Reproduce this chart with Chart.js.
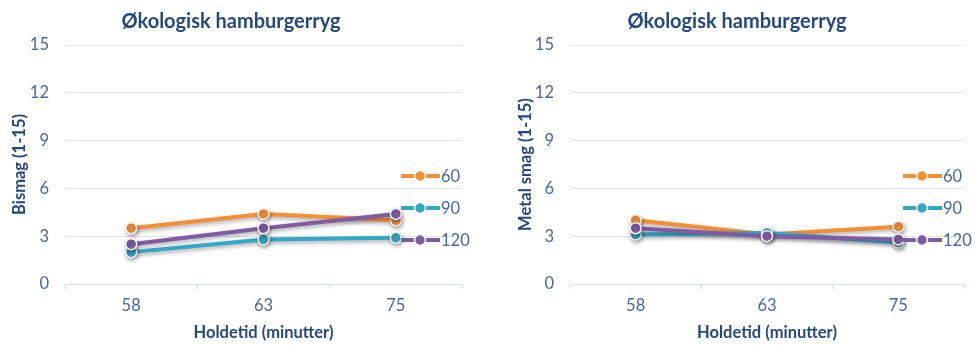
<!DOCTYPE html>
<html>
<head>
<meta charset="utf-8">
<script src="https://cdn.jsdelivr.net/npm/chart.js@4/dist/chart.umd.min.js"></script>
<style>
  html, body { margin: 0; padding: 0; background: #fff; overflow: hidden; width: 978px; height: 345px; }
  .box { position: absolute; top: 0; height: 345px; }
  #b1 { left: 0; width: 492px; }
  #b2 { left: 510px; width: 484px; }
</style>
</head>
<body>
<div class="box" id="b1"><canvas id="c1" width="492" height="345"></canvas></div>
<div class="box" id="b2"><canvas id="c2" width="484" height="345"></canvas></div>
<script>
// ---- data ----
const categories = ["58", "63", "75"];
const seriesNames = ["60", "90", "120"];
const bismag60 = [3.5, 4.4, 4.0];
const bismag90 = [2.0, 2.8, 2.9];
const bismag120 = [2.5, 3.5, 4.4];
const metal60 = [4.0, 3.1, 3.6];
const metal90 = [3.1, 3.2, 2.6];
const metal120 = [3.5, 3.0, 2.8];
const yTicks = [0, 3, 6, 9, 12, 15];
const chartTitle = "Økologisk hamburgerryg";
const xTitle = "Holdetid (minutter)";
const yTitleLeft = "Bismag (1-15)";
const yTitleRight = "Metal smag (1-15)";

const colors = ["#F38F35", "#33A8C6", "#7E5BA3"];
const FONT = "Lato, 'Open Sans', sans-serif";
const TICK_COLOR = "#46689B";
const TITLE_COLOR = "#24497E";

const shadowPlugin = {
  id: 'shadow',
  beforeDatasetsDraw(chart) {
    const ctx = chart.ctx;
    ctx.save();
    ctx.shadowColor = 'rgba(0,0,0,0.35)';
    ctx.shadowBlur = 4;
    ctx.shadowOffsetX = 1;
    ctx.shadowOffsetY = 2;
  },
  afterDatasetsDraw(chart) {
    chart.ctx.restore();
  }
};

const legendPlugin = {
  id: 'customLegend',
  afterDraw(chart) {
    const ctx = chart.ctx;
    const area = chart.chartArea;
    ctx.save();
    chart.data.datasets.forEach((ds, i) => {
      const y = area.top + 131 + i * 32;
      const x0 = area.right - 61;
      const xd = area.right - 42;
      ctx.strokeStyle = ds.borderColor;
      ctx.lineWidth = 4;
      ctx.beginPath();
      ctx.moveTo(x0, y);
      ctx.lineTo(x0 + 39, y);
      ctx.stroke();
      ctx.beginPath();
      ctx.arc(xd, y, 5.5, 0, Math.PI * 2);
      ctx.fillStyle = ds.backgroundColor;
      ctx.fill();
      ctx.lineWidth = 1.5;
      ctx.strokeStyle = '#ffffff';
      ctx.stroke();
      ctx.fillStyle = TICK_COLOR;
      ctx.font = "16.5px " + FONT;
      ctx.textBaseline = 'middle';
      ctx.textAlign = 'left';
      ctx.fillText(ds.label, area.right - 21, y + 1);
    });
    ctx.restore();
  }
};

function makeChart(id, seriesList, yTitle, leftWidth, yTitlePad) {
  return new Chart(document.getElementById(id), {
    type: 'line',
    data: {
      labels: categories,
      datasets: seriesList.map((vals, i) => ({
        label: seriesNames[i],
        data: vals,
        order: seriesList.length - i,
        borderColor: colors[i],
        backgroundColor: colors[i],
        borderWidth: 4,
        pointRadius: 5.5,
        pointHoverRadius: 5.5,
        pointBorderColor: '#f4f4f4',
        pointBorderWidth: 1.5,
        tension: 0
      }))
    },
    options: {
      responsive: false,
      animation: false,
      events: [],
      layout: { padding: { left: 0, right: 30, top: 0, bottom: 0 } },
      plugins: {
        legend: { display: false },
        tooltip: { enabled: false },
        title: {
          display: true,
          text: chartTitle,
          color: TITLE_COLOR,
          font: { family: FONT, size: 20, weight: 'bold' },
          padding: { top: 10, bottom: 11 }
        }
      },
      scales: {
        x: {
          offset: true,
          grid: { display: true, drawOnChartArea: false, drawTicks: true, tickLength: 5, offset: true, color: '#D5DFEC' },
          border: { display: true, color: '#D5DFEC', width: 1 },
          ticks: { color: TICK_COLOR, font: { family: FONT, size: 16.5 }, padding: 7 },
          title: {
            display: true, text: xTitle, color: TITLE_COLOR,
            font: { family: FONT, size: 16.5, weight: 'bold' },
            padding: { top: 0, bottom: 2 }
          },
          afterFit(scale) { scale.height = 61; }
        },
        y: {
          min: 0, max: 15,
          afterBuildTicks(scale) { scale.ticks = yTicks.map(v => ({ value: v })); },
          grid: { color: '#DDE6F2', drawTicks: false },
          border: { display: false },
          ticks: { color: TICK_COLOR, font: { family: FONT, size: 16.5 }, padding: 16 },
          title: {
            display: true, text: yTitle, color: TITLE_COLOR,
            font: { family: FONT, size: 16.5, weight: 'bold' },
            padding: { top: yTitlePad, bottom: 0 }
          },
          afterFit(scale) { scale.width = leftWidth; }
        }
      }
    },
    plugins: [shadowPlugin, legendPlugin]
  });
}

makeChart('c1', [bismag60, bismag90, bismag120], yTitleLeft, 65, 10);
makeChart('c2', [metal60, metal90, metal120], yTitleRight, 60, 6);
</script>
</body>
</html>
